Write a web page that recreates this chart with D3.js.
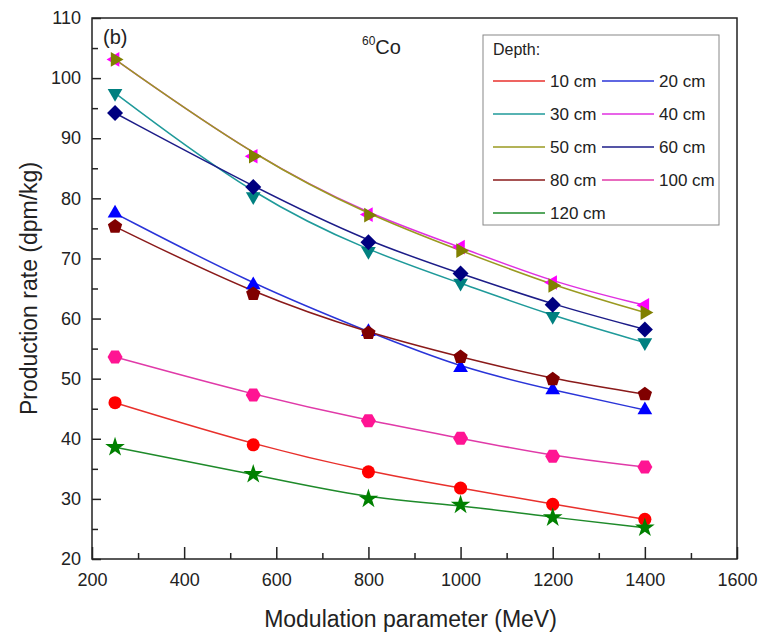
<!DOCTYPE html>
<html>
<head>
<meta charset="utf-8">
<script src="https://cdn.jsdelivr.net/npm/d3@7"></script>
<style>
  body { margin: 0; background: #fff; }
  text { font-family: "Liberation Sans", Arial, sans-serif; fill: #222; }
</style>
</head>
<body>
<div id="chart"></div>
<script>
// Data
const energies = [250, 550, 800, 1000, 1200, 1400];
const depths = ['10 cm', '20 cm', '30 cm', '40 cm', '50 cm', '60 cm', '80 cm', '100 cm', '120 cm'];
const rate10 = [46.0, 39.0, 34.5, 31.8, 29.1, 26.6];
const rate20 = [77.5, 65.6, 57.8, 51.8, 48.1, 44.8];
const rate30 = [97.5, 80.3, 71.2, 65.9, 60.4, 56.0];
const rate40 = [103.1, 87.0, 77.3, 71.9, 66.0, 62.2];
const rate50 = [103.1, 87.0, 77.2, 71.3, 65.5, 61.0];
const rate60 = [94.2, 81.9, 72.7, 67.5, 62.3, 58.2];
const rate80 = [75.3, 64.1, 57.6, 53.6, 49.9, 47.4];
const rate100 = [53.6, 47.3, 43.0, 40.1, 37.1, 35.3];
const rate120 = [38.6, 34.1, 30.0, 29.0, 26.9, 25.2];
const xTicks = [200, 400, 600, 800, 1000, 1200, 1400, 1600];
const yTicks = [20, 30, 40, 50, 60, 70, 80, 90, 100, 110];

const allRates = [rate10, rate20, rate30, rate40, rate50, rate60, rate80, rate100, rate120];
const lineColors = ['#e8302c', '#2a34d8', '#1f9a9a', '#e030e0', '#9a9a20', '#1c1c88', '#8a1a1a', '#e03aa8', '#1e8a2a'];
const markerColors = ['#ff0000', '#0000ff', '#008080', '#ff00ff', '#808000', '#000080', '#800000', '#ff1493', '#008000'];
const markerTypes = ['circle', 'triUp', 'triDown', 'triLeft', 'triRight', 'diamond', 'pentagon', 'hexagon', 'star'];

const W = 776, H = 641;
const margin = { top: 18, right: 39, bottom: 82, left: 92 };
const width = W - margin.left - margin.right;
const height = H - margin.top - margin.bottom;

const svg = d3.select('#chart')
    .append('svg')
    .attr('width', W)
    .attr('height', H);

const g = svg.append('g')
    .attr('transform', `translate(${margin.left},${margin.top})`);

const x = d3.scaleLinear().domain([200, 1600]).range([0, width]);
const y = d3.scaleLinear().domain([20, 110]).range([height, 0]);

// frame
g.append('rect')
    .attr('width', width)
    .attr('height', height)
    .attr('fill', 'none')
    .attr('stroke', '#222')
    .attr('stroke-width', 1.5);

// minor ticks
g.append('g')
    .attr('transform', `translate(0,${height})`)
    .call(d3.axisBottom(x).tickValues(d3.range(300, 1600, 200)).tickSize(-6).tickFormat(''))
    .call(a => a.select('.domain').remove())
    .selectAll('line').attr('stroke', '#222').attr('stroke-width', 1.5);

g.append('g')
    .call(d3.axisLeft(y).tickValues(d3.range(25, 110, 10)).tickSize(-6).tickFormat(''))
    .call(a => a.select('.domain').remove())
    .selectAll('line').attr('stroke', '#222').attr('stroke-width', 1.5);

// major ticks + labels
const xAxis = g.append('g')
    .attr('transform', `translate(0,${height})`)
    .call(d3.axisBottom(x).tickValues(xTicks).tickFormat(d3.format('d'))
        .tickSizeInner(-12).tickSizeOuter(0).tickPadding(14));
xAxis.select('.domain').remove();
xAxis.selectAll('line').attr('stroke', '#222').attr('stroke-width', 1.5);
xAxis.selectAll('text').style('font-size', '18px').attr('fill', '#222');

const yAxis = g.append('g')
    .call(d3.axisLeft(y).tickValues(yTicks).tickFormat(d3.format('d'))
        .tickSizeInner(-9).tickSizeOuter(0).tickPadding(11));
yAxis.select('.domain').remove();
yAxis.selectAll('line').attr('stroke', '#222').attr('stroke-width', 1.5);
yAxis.selectAll('text').style('font-size', '18px').attr('fill', '#222');

// axis titles
svg.append('text')
    .attr('x', margin.left + width / 2 - 4)
    .attr('y', 627)
    .attr('text-anchor', 'middle')
    .style('font-size', '23px')
    .text('Modulation parameter (MeV)');

svg.append('text')
    .attr('transform', `translate(37,${margin.top + height / 2}) rotate(-90)`)
    .attr('text-anchor', 'middle')
    .style('font-size', '23px')
    .text('Production rate (dpm/kg)');

// panel label and nuclide
g.append('text')
    .attr('x', 11)
    .attr('y', 26)
    .style('font-size', '20px')
    .text('(b)');

const nuc = g.append('text')
    .attr('x', 270)
    .attr('y', 36);
nuc.append('tspan').style('font-size', '12px').attr('dy', -9).text('60');
nuc.append('tspan').style('font-size', '20px').attr('dy', 9).text('Co');

// marker shapes
function polygon(n, r, rot) {
    const pts = d3.range(n).map(i => {
        const a = rot + i * 2 * Math.PI / n;
        return [r * Math.cos(a), r * Math.sin(a)];
    });
    return 'M' + pts.map(p => p.join(',')).join('L') + 'Z';
}
function markerPath(type) {
    switch (type) {
        case 'circle': return d3.symbol(d3.symbolCircle, 135)();
        case 'triUp': return polygon(3, 8.5, -Math.PI / 2);
        case 'triDown': return polygon(3, 8.5, Math.PI / 2);
        case 'triLeft': return polygon(3, 8.5, Math.PI);
        case 'triRight': return polygon(3, 8.5, 0);
        case 'diamond': return polygon(4, 8, -Math.PI / 2);
        case 'pentagon': return polygon(5, 7.5, -Math.PI / 2);
        case 'hexagon': return polygon(6, 7.5, 0);
        case 'star': return d3.symbol(d3.symbolStar, 120)();
    }
}

// B-spline connection, like the original plot
const line = d3.line()
    .x((d, i) => x(energies[i]))
    .y(d => y(d))
    .curve(d3.curveBasis);

allRates.forEach((vals, k) => {
    g.append('path')
        .datum(vals)
        .attr('d', line)
        .attr('fill', 'none')
        .attr('stroke', lineColors[k])
        .attr('stroke-width', 1.5);
});

allRates.forEach((vals, k) => {
    g.selectAll(null)
        .data(vals)
        .enter()
        .append('path')
        .attr('d', markerPath(markerTypes[k]))
        .attr('transform', (d, i) => `translate(${x(energies[i])},${y(d)})`)
        .attr('fill', markerColors[k]);
});

// legend
const legend = svg.append('g')
    .attr('transform', 'translate(483,35)');

legend.append('rect')
    .attr('width', 236)
    .attr('height', 190)
    .attr('fill', '#fff')
    .attr('stroke', '#888')
    .attr('stroke-width', 1);

legend.append('text')
    .attr('x', 10)
    .attr('y', 20)
    .style('font-size', '16px')
    .text('Depth:');

const items = legend.selectAll('.legend-item')
    .data(depths)
    .enter()
    .append('g')
    .attr('class', 'legend-item')
    .attr('transform', (d, i) => `translate(${10 + (i % 2) * 109},${46 + Math.floor(i / 2) * 33})`);

items.append('line')
    .attr('x1', 0)
    .attr('x2', 52)
    .attr('stroke', (d, i) => lineColors[i])
    .attr('stroke-width', 1.5);

items.append('text')
    .attr('x', 57)
    .attr('dy', '0.35em')
    .style('font-size', '17px')
    .text(d => d);
</script>
</body>
</html>
